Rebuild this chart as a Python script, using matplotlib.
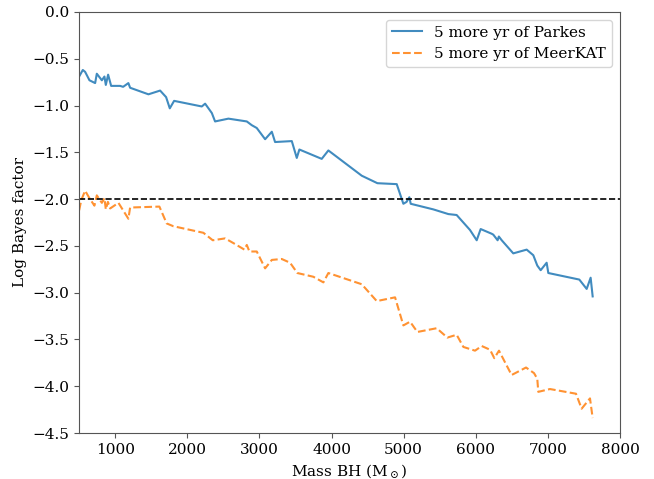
import numpy as np
import matplotlib
matplotlib.use('Agg')
import matplotlib.pyplot as plt

plt.rcParams['font.family'] = 'DejaVu Serif'
plt.rcParams['mathtext.fontset'] = 'dejavuserif'
plt.rcParams['font.size'] = 11

# log Bayes factor vs black hole mass
mass_parkes = [500, 551, 583, 643, 722, 745, 815, 851, 870, 902, 944, 1068, 1110,
               1183, 1207, 1461, 1623, 1706, 1757, 1817, 2201, 2247, 2340, 2385,
               2570, 2825, 2894, 2963, 3079, 3172, 3217, 3449, 3518, 3554, 3864,
               3956, 4419, 4636, 4904, 4996, 5040, 5079, 5098, 5412, 5620, 5735,
               5920, 6013, 6068, 6220, 6243, 6303, 6320, 6360, 6520, 6706, 6798,
               6853, 6900, 6983, 7006, 7436, 7538, 7593, 7621]
lbf_parkes = [-0.69, -0.62, -0.64, -0.73, -0.76, -0.66, -0.73, -0.69, -0.78, -0.67,
              -0.79, -0.79, -0.80, -0.76, -0.81, -0.88, -0.84, -0.91, -1.03, -0.95,
              -1.01, -0.98, -1.08, -1.17, -1.14, -1.17, -1.21, -1.24, -1.36, -1.28,
              -1.39, -1.38, -1.56, -1.47, -1.57, -1.48, -1.75, -1.83, -1.84, -2.05,
              -2.03, -1.98, -2.05, -2.11, -2.16, -2.17, -2.33, -2.44, -2.32, -2.37,
              -2.38, -2.44, -2.40, -2.44, -2.58, -2.54, -2.60, -2.71, -2.76, -2.68,
              -2.79, -2.86, -2.96, -2.84, -3.04]

mass_meerkat = [500, 530, 583, 643, 712, 745, 815, 851, 870, 899, 930, 1045, 1183,
                1207, 1613, 1714, 1807, 2223, 2353, 2524, 2639, 2792, 2825, 2861,
                2963, 3079, 3172, 3309, 3425, 3526, 3748, 3887, 3956, 4419, 4627,
                4881, 4996, 5089, 5190, 5458, 5606, 5735, 5828, 5990, 6082, 6198,
                6257, 6322, 6497, 6697, 6808, 6853, 6867, 7029, 7390, 7468, 7584, 7621]
lbf_meerkat = [-2.12, -2.01, -1.91, -1.99, -2.07, -1.96, -2.04, -1.99, -2.11, -2.03,
               -2.10, -2.04, -2.21, -2.09, -2.08, -2.26, -2.29, -2.36, -2.44, -2.42,
               -2.47, -2.54, -2.49, -2.56, -2.56, -2.74, -2.65, -2.64, -2.68, -2.79,
               -2.83, -2.89, -2.79, -2.91, -3.09, -3.05, -3.35, -3.31, -3.42, -3.38,
               -3.48, -3.45, -3.58, -3.62, -3.57, -3.61, -3.70, -3.62, -3.88, -3.80,
               -3.86, -3.92, -4.06, -4.03, -4.08, -4.24, -4.13, -4.34]

threshold = -2.0

fig, ax = plt.subplots(figsize=(6.54, 4.79), dpi=100)
fig.subplots_adjust(left=0.121, right=0.948, bottom=0.096, top=0.975)

ax.plot(mass_parkes, lbf_parkes, color='#1f77b4', alpha=0.85, lw=1.5,
        label='5 more yr of Parkes')
ax.plot(mass_meerkat, lbf_meerkat, color='#ff7f0e', alpha=0.85, lw=1.5, ls='--',
        label='5 more yr of MeerKAT')
ax.axhline(threshold, color='k', ls='--', lw=1.2)

ax.set_xlim(500, 8000)
ax.set_ylim(-4.5, 0.0)
ax.set_xticks(np.arange(1000, 8001, 1000))
ax.set_yticks(np.arange(-4.5, 0.01, 0.5))
ax.set_xlabel(r'Mass BH (M$_\odot$)')
ax.set_ylabel('Log Bayes factor')
for s in ax.spines.values():
    s.set_color('#555555')
ax.tick_params(color='#555555')
ax.legend(loc='upper right')

fig.savefig('out.png', dpi=100)
